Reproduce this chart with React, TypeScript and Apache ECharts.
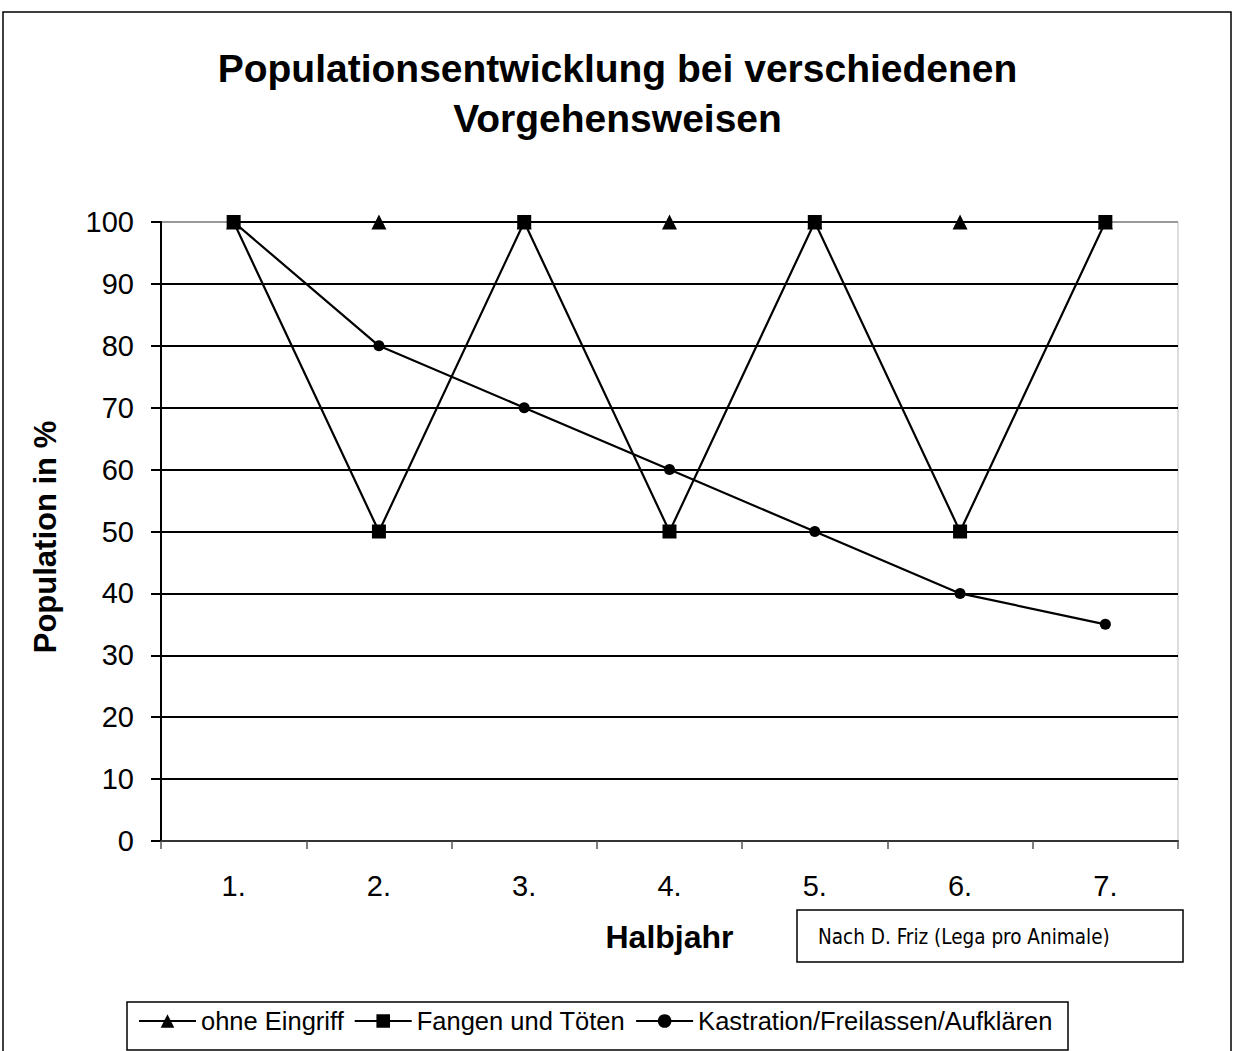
import React, { useEffect, useRef } from "react";
import * as echarts from "echarts";

const categories = ["1.", "2.", "3.", "4.", "5.", "6.", "7."];
const ohneEingriff = [100, 100, 100, 100, 100, 100, 100];
const fangenToeten = [100, 50, 100, 50, 100, 50, 100];
const kastration = [100, 80, 70, 60, 50, 40, 35];
const seriesNames = ["ohne Eingriff", "Fangen und Töten", "Kastration/Freilassen/Aufklären"];
const titleText = "Populationsentwicklung bei verschiedenen\nVorgehensweisen";
const noteText = "Nach D. Friz (Lega pro Animale)";

export default function App() {
  const ref = useRef<HTMLDivElement>(null);
  useEffect(() => {
    if (!ref.current) return;
    const chart = echarts.init(ref.current, undefined, { renderer: "svg" });
    const font = "'Liberation Sans', Arial, sans-serif";
    const splitColors = ["#555", "#000", "#000", "#000", "#000", "#000", "#000", "#000", "#000", "#000", "#999"];
    const lineStyle = { color: "#000", width: 2.2 };
    chart.setOption({
      animation: false,
      backgroundColor: "#fff",
      title: {
        text: titleText,
        left: "center",
        top: 38,
        textStyle: { fontFamily: font, fontSize: 39, fontWeight: "bold", color: "#000", lineHeight: 50 },
      },
      grid: {
        left: 161,
        right: 57,
        top: 222,
        bottom: 210,
        show: true,
        borderColor: "#bbb",
        borderWidth: 1,
      },
      legend: {
        left: 133,
        top: 1003,
        itemWidth: 57,
        itemHeight: 17,
        itemGap: 10,
        textStyle: { fontFamily: font, fontSize: 25.5, color: "#000" },
        inactiveColor: "#000",
        data: seriesNames,
      },
      xAxis: {
        type: "category",
        data: categories,
        boundaryGap: true,
        axisLine: { lineStyle: { color: "#333", width: 2, type: [3, 1] } },
        axisTick: { show: true, length: 8, lineStyle: { color: "#555", width: 1.5 } },
        axisLabel: { fontFamily: font, fontSize: 29, color: "#000", margin: 30 },
        name: "Halbjahr",
        nameLocation: "middle",
        nameGap: 80,
        nameTextStyle: { fontFamily: font, fontSize: 32, fontWeight: "bold", color: "#000", verticalAlign: "top" },
      },
      yAxis: {
        type: "value",
        min: 0,
        max: 100,
        interval: 10,
        axisLine: { show: true, lineStyle: { color: "#000", width: 2 } },
        axisTick: { show: true, length: 10, lineStyle: { color: "#000", width: 2 } },
        axisLabel: { fontFamily: font, fontSize: 29, color: "#000", margin: 27 },
        splitLine: { show: true, lineStyle: { color: splitColors, width: 2 } },
      },
      graphic: [
        {
          type: "rect",
          shape: { x: 3, y: 12, width: 1228, height: 1040 },
          style: { fill: "none", stroke: "#000", lineWidth: 1.5 },
          silent: true,
          z: -1,
        },
        {
          type: "rect",
          shape: { x: 127, y: 1002, width: 941, height: 48 },
          style: { fill: "none", stroke: "#000", lineWidth: 1.5 },
          silent: true,
        },
        {
          type: "rect",
          shape: { x: 797, y: 910, width: 386, height: 52 },
          style: { fill: "#fff", stroke: "#000", lineWidth: 1.5 },
          silent: true,
        },
        {
          type: "text",
          x: 818,
          y: 937,
          style: {
            text: noteText,
            fontFamily: "'DejaVu Sans Condensed', 'Liberation Sans Narrow', sans-serif",
            fontSize: 20.5,
            fill: "#000",
            textVerticalAlign: "middle",
          },
          silent: true,
        },
        {
          type: "text",
          x: 45,
          y: 537,
          rotation: Math.PI / 2,
          style: {
            text: "Population in %",
            fontFamily: font,
            fontSize: 31,
            fontWeight: "bold",
            fill: "#000",
            textAlign: "center",
            textVerticalAlign: "middle",
          },
          silent: true,
        },
      ],
      series: [
        {
          name: seriesNames[0],
          type: "line",
          data: ohneEingriff,
          symbol: "triangle",
          symbolSize: 15,
          lineStyle,
          itemStyle: { color: "#000" },
          z: 2,
        },
        {
          name: seriesNames[1],
          type: "line",
          data: fangenToeten,
          symbol: "rect",
          symbolSize: 14,
          lineStyle,
          itemStyle: { color: "#000" },
          z: 3,
        },
        {
          name: seriesNames[2],
          type: "line",
          data: kastration,
          symbol: "circle",
          symbolSize: 11,
          lineStyle,
          itemStyle: { color: "#000" },
          z: 4,
        },
      ],
    });
    return () => chart.dispose();
  }, []);
  return (
    <div
      ref={ref}
      style={{ position: "fixed", left: 0, top: 0, width: 1235, height: 1051, background: "#fff" }}
    />
  );
}
